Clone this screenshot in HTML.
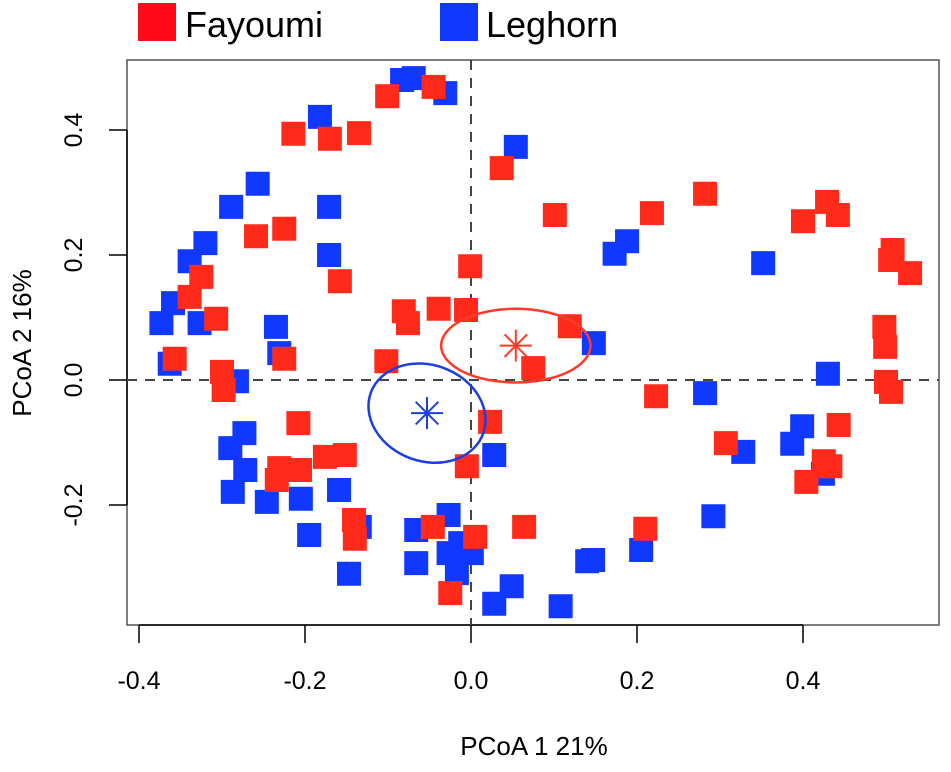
<!DOCTYPE html>
<html><head><meta charset="utf-8"><style>
body{margin:0;background:#fff;}
svg text{font-family:"Liberation Sans",sans-serif;fill:#000;}
</style></head><body>
<svg id="chart" width="951" height="767" viewBox="0 0 951 767" xmlns="http://www.w3.org/2000/svg">
<g>
<rect x="138" y="3" width="38" height="38" fill="#ff0a1a"/>
<text x="185" y="37" font-size="36">Fayoumi</text>
<rect x="440" y="3" width="38" height="38" fill="#1038ff"/>
<text x="486" y="37" font-size="36">Leghorn</text>
</g>
<rect x="127" y="60" width="812" height="565" fill="none" stroke="#555" stroke-width="1.5"/>
<g id="marks"></g>
<text x="534" y="755" font-size="26" text-anchor="middle">PCoA 1 21%</text>
<text transform="translate(31,343) rotate(-90)" font-size="26" text-anchor="middle">PCoA 2 16%</text>
</svg>
<script>
const xTicks=[-0.4,-0.2,0.0,0.2,0.4];
const yTicks=[-0.2,0.0,0.2,0.4];
const xTickLabels=["-0.4","-0.2","0.0","0.2","0.4"];
const yTickLabels=["-0.2","0.0","0.2","0.4"];
const fayX=[-0.101,-0.045,-0.214,-0.170,-0.135,0.037,-0.259,-0.225,-0.158,-0.325,-0.339,-0.307,-0.001,-0.081,-0.076,-0.039,-0.006,-0.357,-0.300,-0.298,-0.225,-0.102,0.023,-0.005,-0.208,-0.231,-0.206,-0.234,-0.176,-0.152,-0.141,-0.140,-0.046,0.005,0.064,-0.025,0.101,0.218,0.282,0.400,0.429,0.442,0.505,0.529,0.508,0.498,0.499,0.119,0.075,0.223,0.500,0.506,0.443,0.307,0.425,0.433,0.404,0.210];
const fayY=[0.454,0.469,0.394,0.386,0.395,0.339,0.230,0.242,0.158,0.165,0.133,0.098,0.182,0.110,0.091,0.114,0.112,0.034,0.013,-0.016,0.034,0.030,-0.067,-0.138,-0.069,-0.141,-0.144,-0.160,-0.123,-0.120,-0.224,-0.254,-0.235,-0.251,-0.235,-0.341,0.264,0.267,0.298,0.254,0.285,0.264,0.192,0.171,0.208,0.085,0.053,0.086,0.019,-0.026,-0.003,-0.019,-0.072,-0.101,-0.130,-0.138,-0.163,-0.238];
const legX=[-0.083,-0.069,-0.031,-0.182,-0.257,-0.289,-0.320,-0.339,-0.359,-0.373,-0.327,-0.171,-0.171,-0.235,0.054,-0.363,-0.282,-0.231,-0.273,-0.290,-0.272,-0.287,-0.246,-0.205,-0.159,-0.195,-0.134,-0.147,-0.066,-0.066,-0.027,-0.027,-0.013,-0.017,0.001,0.028,0.049,0.028,0.188,0.173,0.352,0.148,0.430,0.282,0.399,0.387,0.328,0.424,0.292,0.205,0.147,0.140,0.108];
const legY=[0.480,0.483,0.459,0.421,0.314,0.277,0.219,0.190,0.123,0.091,0.091,0.277,0.200,0.085,0.373,0.026,-0.002,0.043,-0.085,-0.109,-0.144,-0.179,-0.195,-0.190,-0.176,-0.248,-0.235,-0.310,-0.240,-0.293,-0.216,-0.277,-0.261,-0.309,-0.277,-0.120,-0.330,-0.358,0.222,0.202,0.187,0.059,0.010,-0.021,-0.074,-0.102,-0.115,-0.150,-0.218,-0.272,-0.288,-0.290,-0.362];
const centroidX=[0.054,-0.053];
const centroidY=[0.055,-0.053];
const ellipseRX=[0.090,0.072];
const ellipseRY=[0.059,0.077];

const X=v=>471+v*830;
const Y=v=>380-v*625;
const NS="http://www.w3.org/2000/svg";
const svg=document.getElementById('chart');
const g=document.getElementById('marks');
function mk(t,a,p){const e=document.createElementNS(NS,t);for(const k in a)e.setAttribute(k,a[k]);(p||g).appendChild(e);return e;}

// axes
const ax=mk('line',{x1:X(xTicks[0]),x2:X(xTicks[xTicks.length-1]),y1:625,y2:625,stroke:'#000','stroke-width':1.5});


xTicks.forEach((v,i)=>{
  const t=mk('line',{x1:X(v),x2:X(v),y1:625,y2:643,stroke:'#000','stroke-width':1.5});
  
  
  const l=mk('text',{x:X(v),y:689,'font-size':25,'text-anchor':'middle'});
  
  
  l.textContent=xTickLabels[i];
});
const ay=mk('line',{x1:127,x2:127,y1:Y(yTicks[0]),y2:Y(yTicks[yTicks.length-1]),stroke:'#000','stroke-width':1.5});


yTicks.forEach((v,i)=>{
  const t=mk('line',{x1:109,x2:127,y1:Y(v),y2:Y(v),stroke:'#000','stroke-width':1.5});
  
  
  const l=mk('text',{transform:`translate(82,${Y(v)}) rotate(-90)`,'font-size':25,'text-anchor':'middle'});
  
  
  l.textContent=yTickLabels[i];
});
// reference lines
const h0=mk('line',{x1:127,x2:939,y1:Y(0),y2:Y(0),stroke:'#444','stroke-width':2,'stroke-dasharray':'10,8'});


const v0=mk('line',{x1:X(0),x2:X(0),y1:60,y2:625,stroke:'#444','stroke-width':2,'stroke-dasharray':'10,8'});



const S=24;
for(let i=0;i<legX.length;i++){
  const r=mk('rect',{x:X(legX[i])-S/2,y:Y(legY[i])-S/2,width:S,height:S,fill:'#1038ff'});
  
  
}
for(let i=0;i<fayX.length;i++){
  const r=mk('rect',{x:X(fayX[i])-S/2,y:Y(fayY[i])-S/2,width:S,height:S,fill:'#ff2a1a'});
  
  
}
const cols=['#ff3a2a','#1c3ee0'];
const names=['fayoumi','leghorn'];
for(let k=0;k<2;k++){
  const cx=X(centroidX[k]),cy=Y(centroidY[k]);
  const e=mk('ellipse',{cx:cx,cy:cy,rx:ellipseRX[k]*830,ry:ellipseRY[k]*625,fill:'none',stroke:cols[k],'stroke-width':2.5,transform:k==1?`rotate(20 ${cx} ${cy})`:''});
  
  
  const st=mk('g',{stroke:cols[k],'stroke-width':2});
  
  
  const R=16;
  [0,45,90,135].forEach(a=>{
    const rad=a*Math.PI/180;
    mk('line',{x1:cx-R*Math.cos(rad),y1:cy-R*Math.sin(rad),x2:cx+R*Math.cos(rad),y2:cy+R*Math.sin(rad)},st);
  });
}
</script>
</body></html>
